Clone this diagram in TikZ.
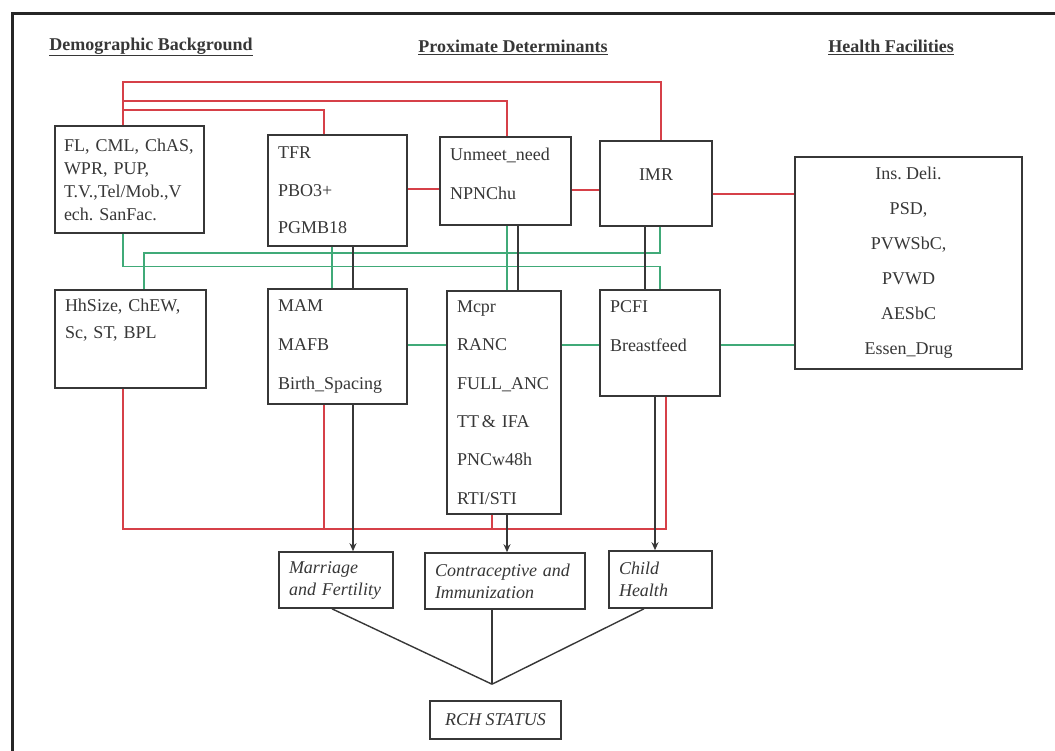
\documentclass[tikz,border=0pt]{standalone}
\usepackage{fontspec}
\setmainfont{Liberation Serif}
\usetikzlibrary{arrows.meta}
\definecolor{linkred}{RGB}{214,64,72}
\definecolor{linkgreen}{RGB}{64,170,120}
\definecolor{ink}{RGB}{55,55,55}
\frenchspacing

\begin{document}
\begin{tikzpicture}[x=1pt,y=-1pt,
box/.style={draw=ink,line width=1.6pt,fill=white,text=ink,inner xsep=10pt,inner ysep=0pt,align=left,font=\fontsize{18}{23}\selectfont},
ibox/.style={box,font=\itshape\fontsize{18}{22}\selectfont},
head/.style={text=ink,font=\bfseries\fontsize{18}{20}\selectfont},
redline/.style={draw=linkred,line width=1.4pt},
greenline/.style={draw=linkgreen,line width=1.4pt},
blackline/.style={draw=ink,line width=1.4pt},
arrowline/.style={blackline,-{Stealth[length=8pt,width=7pt]}},
]
\useasboundingbox (0,0) rectangle (1055,751);
\draw[line width=3pt,black!85] (12,751) -- (12,14) -- (1055,14);

% headings
\node[head] (hdemo) at (151,47) {\underline{Demographic Background}};
\node[head] (hprox) at (513,47) {\underline{Proximate Determinants}};
\node[head] (hfac) at (891,47) {\underline{Health Facilities}};

% upper row
\node[box,inner xsep=9pt,minimum width=149pt,minimum height=107pt,text width=131pt] (db1) at (129.5,179.5)
  {FL, CML, ChAS,\\ WPR, PUP,\\ T.V.,Tel/Mob.,V\\ ech. SanFac.};
\node[box,minimum width=139pt,minimum height=111pt,text width=119pt] (tfr) at (337.5,190.5)
  {TFR\\[14.5pt] PBO3+\\[14.5pt] PGMB18};
\node[box,minimum width=131pt,minimum height=88pt,text width=111pt] (unmeet) at (505.5,181)
  {Unmeet\_need\\[16pt] NPNChu\\[-8pt]~};
\node[box,minimum width=112pt,minimum height=85pt,align=center] (imr) at (656,183.5)
  {IMR\\[-6pt]~};
\node[box,minimum width=227pt,minimum height=212pt,align=center] (hf) at (908.5,263)
  {Ins. Deli.\\[12pt] PSD,\\[12pt] PVWSbC,\\[12pt] PVWD\\[12pt] AESbC\\[12pt] Essen\_Drug};

% middle row
\node[box,minimum width=151pt,minimum height=98pt,text width=131pt] (hh) at (130.5,339)
  {HhSize, ChEW,\\[4pt] Sc, ST, BPL\\[18pt]~};
\node[box,minimum width=139pt,minimum height=115pt,text width=119pt] (mam) at (337.5,346.5)
  {MAM\\[16pt] MAFB\\[16pt] Birth\_Spacing};
\node[box,minimum width=114pt,minimum height=223pt,text width=94pt] (mcpr) at (504,402.5)
  {Mcpr\\[15.4pt] RANC\\[15.4pt] FULL\_ANC\\[15.4pt] TT\,\& IFA\\[15.4pt] PNCw48h\\[15.4pt] RTI/STI};
\node[box,minimum width=120pt,minimum height=106pt,text width=100pt] (pcfi) at (660,343)
  {PCFI\\[16pt] Breastfeed\\[10pt]~};

% outcome row
\node[ibox,minimum width=114pt,minimum height=56pt,text width=94pt] (mf) at (336,580)
  {Marriage\\ and Fertility};
\node[ibox,minimum width=160pt,minimum height=56pt,text width=140pt] (ci) at (505,581)
  {Contraceptive and\\ Immunization};
\node[ibox,minimum width=103pt,minimum height=57pt,text width=83pt] (ch) at (660.5,579.5)
  {Child\\ Health};
\node[ibox,minimum width=131pt,minimum height=38pt,align=center] (rch) at (495.5,720)
  {RCH STATUS};
\coordinate (join) at ([xshift=-3.5pt,yshift=16pt]rch.north);

% red links
\draw[redline] ([xshift=-6.5pt]db1.north) -- ++(0,-43) -| ([xshift=5pt]imr.north);
\draw[redline] ([xshift=-6.5pt]db1.north) -- ++(0,-24) -| ([xshift=1.5pt]unmeet.north);
\draw[redline] ([xshift=-6.5pt]db1.north) -- ++(0,-15) -| ([xshift=-13.5pt]tfr.north);
\draw[redline] ([yshift=1.5pt]tfr.east) -- ([yshift=1.5pt]tfr.east -| unmeet.west);
\draw[redline] ([yshift=-9pt]unmeet.east) -- ([yshift=-9pt]unmeet.east -| imr.west);
\draw[redline] ([yshift=-10.5pt]imr.east) -- ([yshift=-10.5pt]imr.east -| hf.west);
\draw[redline] ([xshift=-7.5pt]hh.south) -- ++(0,140) -| ([xshift=6pt]pcfi.south);
\draw[redline] ([xshift=-13.5pt]mam.south) -- ++(0,124);
\draw[redline] ([xshift=-12pt]mcpr.south) -- ++(0,14);

% green links
\draw[greenline] ([xshift=13.5pt]hh.north) -- ++(0,-36) -| ([xshift=4pt]imr.south);
\draw[greenline] ([xshift=-6.5pt]db1.south) -- ++(0,33) -| (pcfi.north);
\draw[greenline] ([xshift=-5.5pt]tfr.south) -- ([xshift=-5.5pt]mam.north);
\draw[greenline] ([xshift=1.5pt]unmeet.south) -- ([xshift=1.5pt]unmeet.south |- mcpr.north);
\draw[greenline] ([yshift=1.5pt]mam.east) -- ([yshift=1.5pt]mam.east -| mcpr.west);
\draw[greenline] ([yshift=-2pt]pcfi.west) -- ([yshift=-2pt]pcfi.west -| mcpr.east);
\draw[greenline] ([yshift=-2pt]pcfi.east) -- ([yshift=-2pt]pcfi.east -| hf.west);

% black links
\draw[blackline] ([xshift=15.5pt]tfr.south) -- ([xshift=15.5pt]mam.north);
\draw[blackline] ([xshift=12.5pt]unmeet.south) -- ([xshift=12.5pt]unmeet.south |- mcpr.north);
\draw[blackline] ([xshift=-11pt]imr.south) -- ([xshift=-11pt]imr.south |- pcfi.north);
\draw[arrowline] ([xshift=15.5pt]mam.south) -- ([xshift=15.5pt]mam.south |- mf.north);
\draw[arrowline] ([xshift=3pt]mcpr.south) -- ([xshift=3pt]mcpr.south |- ci.north);
\draw[arrowline] ([xshift=-5pt]pcfi.south) -- ([xshift=-5pt]pcfi.south |- ch.north);
\draw[blackline] ([xshift=-4pt]mf.south) -- (join);
\draw[blackline] ([xshift=-13pt]ci.south) -- (join);
\draw[blackline] ([xshift=-16.5pt]ch.south) -- (join);
\end{tikzpicture}
\end{document}
